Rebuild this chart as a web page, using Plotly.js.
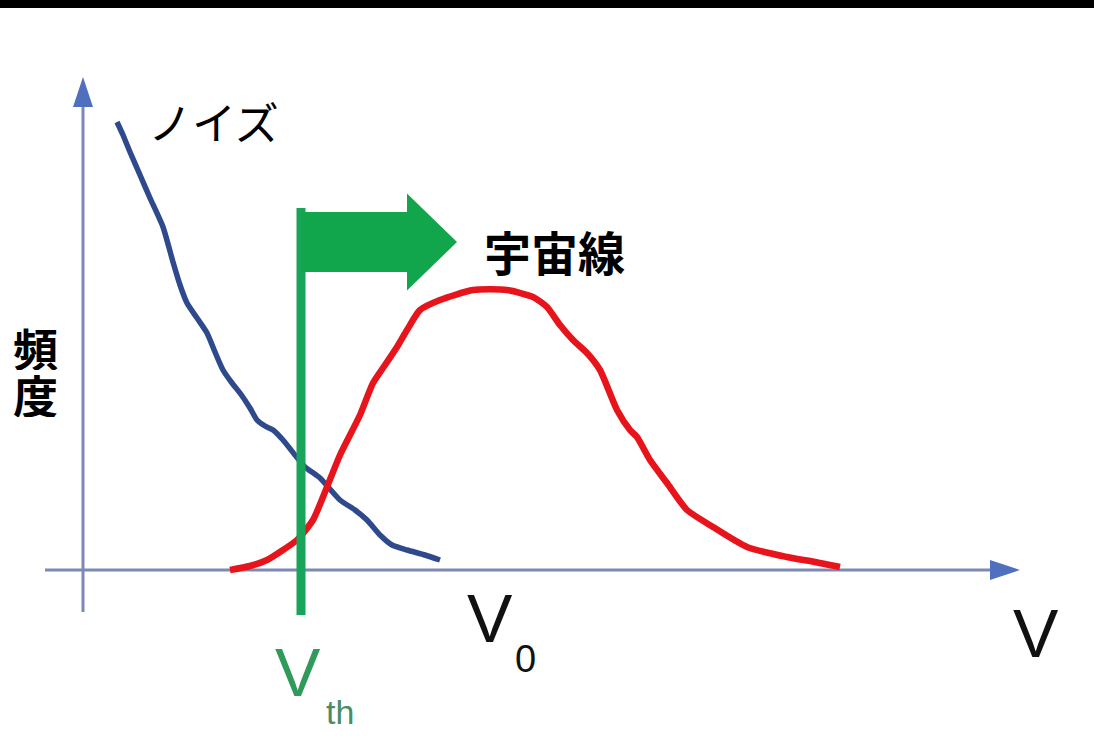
<!DOCTYPE html>
<html>
<head>
<meta charset="utf-8">
<script src="https://cdn.plot.ly/plotly-3.0.1.min.js"></script>
<style>html,body{margin:0;padding:0;background:#fff;}#chart{width:1094px;height:747px;}</style>
</head>
<body>
<div id="chart"></div>
<script>
// Noise distribution (blue)
const noiseV = [3.4,4.0,4.7,5.7,6.7,8.0,9.0,9.7,10.4,11.4,12.4,13.2,14.0,14.9,15.7,16.7,17.4,18.2,19.0,20.0,21.2,22.2,23.7,25.7,27.2,28.4,29.7,30.9,32.4,34.2,35.7];
const noiseF = [44.8,43.5,41.8,39.5,37.2,34.3,30.8,28.5,26.7,25.2,23.7,21.8,20.0,18.7,17.7,16.2,15.0,14.4,14.0,13.0,11.5,10.3,9.2,7.0,6.0,5.0,3.5,2.5,2.0,1.5,1.0];
// Cosmic-ray distribution (red)
const rayV = [14.7,16.7,18.4,20.0,21.4,23.0,24.4,25.7,27.7,29.0,30.2,31.4,32.4,33.7,35.7,39.0,42.4,45.0,46.4,47.7,49.0,50.4,51.7,53.4,54.7,55.4,56.7,58.4,60.4,63.0,66.4,70.4,73.2,75.7];
const rayF = [0,0.4,1.0,2.0,3.0,5.0,8.3,11.5,15.5,18.7,20.5,22.3,24.0,26.0,27.0,28.0,28.0,27.3,26.3,24.5,23.0,21.7,20.0,16.0,14.0,13.3,11.0,8.7,6.0,4.3,2.3,1.3,0.8,0.3];
// Key values
const Vth = 21.8;
const V0 = 40.7;
// Labels
const labelNoise = "ノイズ";
const labelRay = "宇宙線";
const labelFreq = ["頻", "度"];
const labelV = "V";

const xRange = [-8.3, 101.1];
const yRange = [-17.7, 57.0];

const axisLine = '#7d89b3';
const axisHead = '#4f6fbf';
const green = '#12a64c';

const traces = [
  {x: noiseV, y: noiseF, mode: 'lines', line: {color: '#2f4a8c', width: 5.5, shape: 'spline', smoothing: 0.6}, hoverinfo: 'skip'},
  {x: rayV, y: rayF, mode: 'lines', line: {color: '#e8141c', width: 6.5, shape: 'spline', smoothing: 0.6}, hoverinfo: 'skip'}
];

// arrow geometry around threshold
const arrBodyEnd = Vth + 10.6, arrTip = Vth + 15.6;
const arrMid = 32.8, arrBodyHalf = 3.0, arrHeadHalf = 4.85;
const arrowPath = `M ${Vth} ${arrMid+arrBodyHalf} L ${arrBodyEnd} ${arrMid+arrBodyHalf} L ${arrBodyEnd} ${arrMid+arrHeadHalf} L ${arrTip} ${arrMid} L ${arrBodyEnd} ${arrMid-arrHeadHalf} L ${arrBodyEnd} ${arrMid-arrBodyHalf} L ${Vth} ${arrMid-arrBodyHalf} Z`;

const shapes = [
  // top black bar
  {type: 'rect', xref: 'paper', yref: 'paper', x0: 0, x1: 1, y0: 1 - 8/747, y1: 1, fillcolor: '#000', line: {width: 0}, layer: 'above'},
  // y axis
  {type: 'line', x0: 0, x1: 0, y0: -4.2, y1: 46.5, line: {color: axisLine, width: 3}, layer: 'below'},
  {type: 'path', path: 'M -1.0 46.3 L 0 49.3 L 1.0 46.3 Z', fillcolor: axisHead, line: {width: 0}, layer: 'below'},
  // x axis
  {type: 'line', x0: -3.8, x1: 90.9, y0: 0, y1: 0, line: {color: axisLine, width: 3}, layer: 'below'},
  {type: 'path', path: 'M 90.7 1.0 L 93.7 0 L 90.7 -1.0 Z', fillcolor: axisHead, line: {width: 0}, layer: 'below'},
  // threshold line
  {type: 'line', x0: Vth, x1: Vth, y0: -4.5, y1: 36.2, line: {color: '#19a559', width: 9}, layer: 'above'},
  // arrow
  {type: 'path', path: arrowPath, fillcolor: green, line: {width: 0}, layer: 'above'}
];

const cjk = '"Noto Sans CJK JP", "Noto Sans CJK SC", sans-serif';
const latin = '"Liberation Sans", Arial, sans-serif';

const annotations = [
  {x: 13.0, y: 44.9, text: labelNoise, showarrow: false, font: {family: cjk, size: 44, color: '#000'}},
  {x: 47.1, y: 32.0, text: '<b>' + labelRay + '</b>', showarrow: false, font: {family: cjk, size: 47, color: '#000'}},
  {x: -4.8, y: 22.3, text: '<b>' + labelFreq[0] + '</b>', showarrow: false, height: 46, font: {family: cjk, size: 45, color: '#000'}},
  {x: -4.8, y: 17.6, text: '<b>' + labelFreq[1] + '</b>', showarrow: false, height: 46, font: {family: cjk, size: 45, color: '#000'}},
  {x: V0, y: -4.8, text: labelV, showarrow: false, font: {family: latin, size: 68, color: '#111'}},
  {x: V0 + 3.5, y: -8.9, text: '0', showarrow: false, font: {family: latin, size: 38, color: '#111'}},
  {x: 95.3, y: -6.3, text: labelV, showarrow: false, font: {family: latin, size: 68, color: '#111'}},
  {x: Vth - 0.3, y: -10.2, text: labelV, showarrow: false, font: {family: latin, size: 68, color: '#2f9a5a'}},
  {x: Vth + 3.9, y: -14.2, text: 'th', showarrow: false, font: {family: latin, size: 34, color: '#4a8c63'}}
];

const layout = {
  width: 1094, height: 747,
  margin: {l: 0, r: 0, t: 0, b: 0},
  paper_bgcolor: '#fff', plot_bgcolor: '#fff',
  showlegend: false,
  xaxis: {range: xRange, visible: false, fixedrange: true},
  yaxis: {range: yRange, visible: false, fixedrange: true},
  shapes: shapes,
  annotations: annotations
};

Plotly.newPlot('chart', traces, layout, {displayModeBar: false, staticPlot: true});
</script>
</body>
</html>
